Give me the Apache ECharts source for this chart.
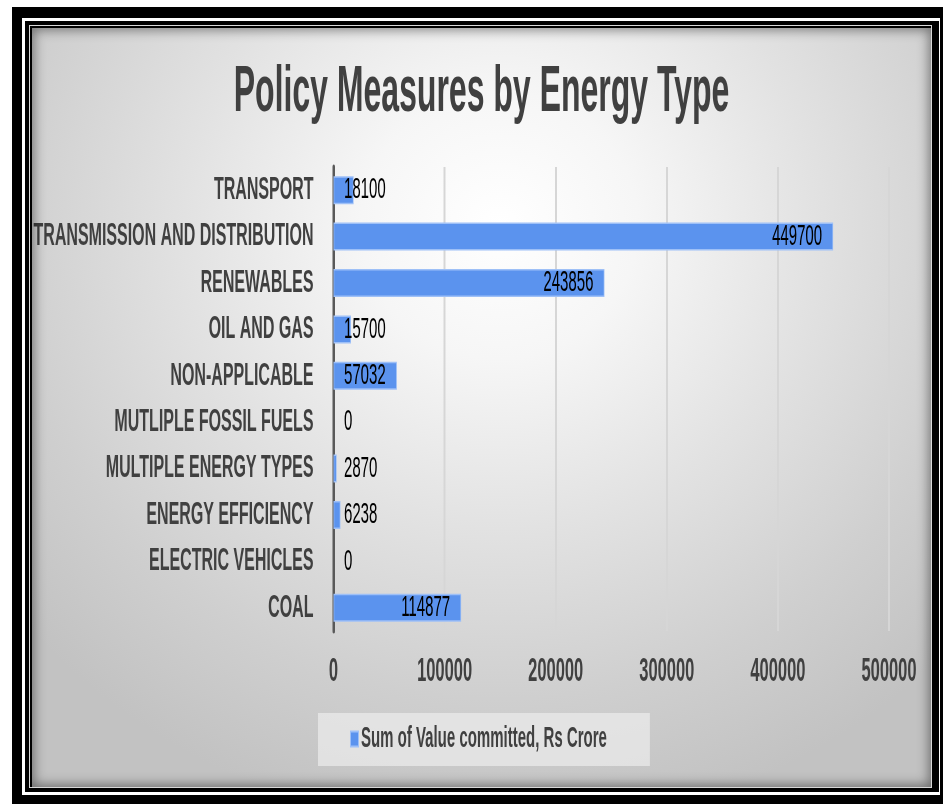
<!DOCTYPE html>
<html>
<head>
<meta charset="utf-8">
<script src="https://cdn.jsdelivr.net/npm/echarts@6/dist/echarts.min.js"></script>
<style>
  html, body { margin: 0; padding: 0; background: #ffffff; overflow: hidden; }
  body { width: 943px; height: 804px; position: relative; }
  #frameOuter { position: absolute; left: 12px; top: 7px; width: 938px; height: 799px; box-sizing: border-box; border-style: solid; border-color: #000; border-width: 11px 10px 11px 10px; }
  #frameInner { position: absolute; left: 25px; top: 21px; width: 914px; height: 771px; background: #000; }
  #frameLine { position: absolute; left: 29px; top: 25px; width: 903px; height: 763px; box-sizing: border-box; border: 1px solid #d8d8d8; }
  #content { position: absolute; left: 32px; top: 28px; width: 899px; height: 759px; overflow: hidden;
    background: radial-gradient(ellipse 70% 80% at 52% 26%, #ffffff 0%, #f6f6f6 22%, #e2e2e2 50%, #cfcfcf 78%, #c2c2c2 100%);
  }
  #shadow { position: absolute; left: 0; top: 0; width: 899px; height: 759px; box-shadow: inset 0 0 12px 2px rgba(0,0,0,0.45); pointer-events: none; }
  #chart { position: absolute; left: 0; top: 0; width: 1798px; height: 759px; transform: scaleX(0.5); transform-origin: 0 0; }
</style>
</head>
<body>
<div id="frameOuter"></div>
<div id="frameInner"></div>
<div id="frameLine"></div>
<div id="content">
  <div id="chart"></div>
  <div id="shadow"></div>
</div>
<script>
const titleText = 'Policy Measures by Energy Type';
const seriesName = 'Sum of Value committed, Rs Crore';
const categories = [
  'COAL',
  'ELECTRIC VEHICLES',
  'ENERGY EFFICIENCY',
  'MULTIPLE ENERGY TYPES',
  'MUTLIPLE FOSSIL FUELS',
  'NON-APPLICABLE',
  'OIL AND GAS',
  'RENEWABLES',
  'TRANSMISSION AND DISTRIBUTION',
  'TRANSPORT'
];
const values = [114877, 0, 6238, 2870, 0, 57032, 15700, 243856, 449700, 18100];
const axisMin = 0;
const axisMax = 500000;
const axisInterval = 100000;

const chart = echarts.init(document.getElementById('chart'), null, { renderer: 'canvas' });
const FONT = '"Liberation Sans", Arial, sans-serif';

const seriesData = values.map(v => ({
  value: v,
  itemStyle: v === 0 ? { borderWidth: 0 } : undefined,
  label: v >= 100000
    ? { position: 'insideRight', distance: 22 }
    : { position: 'insideLeft', distance: 21 }
}));

chart.setOption({
  backgroundColor: 'transparent',
  animation: false,
  title: {
    text: titleText,
    left: 'center',
    top: 28,
    textStyle: { fontFamily: FONT, fontSize: 64, fontWeight: 'bold', color: '#404040' }
  },
  legend: {
    data: [seriesName],
    left: 572,
    top: 685,
    padding: [11, 86, 12, 64],
    backgroundColor: 'rgba(236,236,236,0.7)',
    itemWidth: 16,
    itemHeight: 15,
    icon: 'rect',
    textStyle: { fontFamily: FONT, fontSize: 30, fontWeight: 'bold', color: '#404040', lineHeight: 30 }
  },
  grid: { left: 600, right: 84, top: 139, bottom: 156, containLabel: false },
  xAxis: {
    type: 'value',
    min: axisMin,
    max: axisMax,
    interval: axisInterval,
    axisLine: { show: false },
    axisTick: { show: false },
    splitLine: { show: true, lineStyle: { color: '#d6d6d6', width: 4 } },
    axisLabel: {
      margin: 24, fontFamily: FONT, fontSize: 33, fontWeight: 'bold', color: '#404040',
      formatter: v => String(v)
    }
  },
  yAxis: {
    type: 'category',
    data: categories,
    axisLine: { show: true, lineStyle: { color: '#595959', width: 5 } },
    axisTick: { show: false },
    axisLabel: { margin: 40, fontFamily: FONT, fontSize: 32, fontWeight: 'bold', color: '#404040' }
  },
  series: [{
    name: seriesName,
    type: 'bar',
    data: seriesData,
    barWidth: 28,
    itemStyle: { color: '#5b93ee', borderColor: '#9ec0f7', borderWidth: 1.5 },
    label: { show: true, fontFamily: FONT, fontSize: 30, color: '#000000' }
  }]
});
</script>
</body>
</html>
